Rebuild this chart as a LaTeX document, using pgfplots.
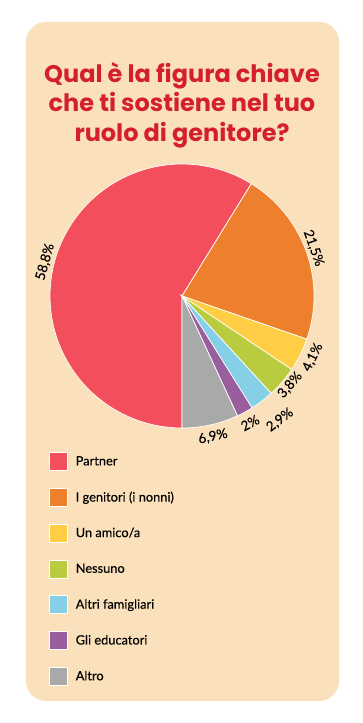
\documentclass[border=0pt]{standalone}
\usepackage{pgfplots}
\pgfplotsset{compat=1.18}
\usepackage{fontspec}
\setmainfont{Lato}
\newfontfamily\titlefont{Poppins}
\newfontfamily\legfont[FakeBold=0.25]{Lato}
\definecolor{peach}{HTML}{FAE1BB}
\definecolor{titlered}{HTML}{D4202C}
\definecolor{cPartner}{HTML}{F24E5B}
\definecolor{cGenitori}{HTML}{EE7F2D}
\definecolor{cAmico}{HTML}{FFCE45}
\definecolor{cNessuno}{HTML}{B9CB3F}
\definecolor{cAltri}{HTML}{85D0E7}
\definecolor{cEduc}{HTML}{985E9E}
\definecolor{cAltro}{HTML}{A9A9A9}
\newcommand\cur{-90}
\newcommand\slice[3]{%
  \pgfmathsetmacro\sa{\cur}%
  \pgfmathsetmacro\sb{\cur-3.6*#1}%
  \addplot[fill=#2, draw=white, line width=0.7pt, domain=\sb:\sa, samples=80]
     ({132*cos(x)},{132*sin(x)}) -- (axis cs:0,0) -- cycle;
  \addlegendentry{#3}
  \xdef\cur{\sb}%
}
\begin{document}
\begin{tikzpicture}[x=1pt,y=1pt]
\fill[white] (0,0) rectangle (363,723);
\fill[peach, rounded corners=20pt] (26,22) rectangle (339,701);
\begin{scope}[font=\titlefont\bfseries\fontsize{24}{29}\selectfont, text=titlered]
\node[anchor=base, inner sep=0] at (182,640) {Qual è la figura chiave};
\node[anchor=base, inner sep=0] at (182,611) {che ti sostiene nel tuo};
\node[anchor=base, inner sep=0] at (182,581.5) {ruolo di genitore?};
\end{scope}
\begin{axis}[at={(182,427)}, anchor=center,
  hide axis, scale only axis, width=264pt, height=264pt,
  xmin=-132, xmax=132, ymin=-132, ymax=132, clip=false,
  legend cell align=left,
  legend image code/.code={\draw[#1, line width=0.6pt] (0pt,-9pt) rectangle (18pt,9pt);},
  legend style={at={(-0.004,-0.091)}, anchor=north west, draw=none, fill=none,
    font=\legfont\fontsize{12.8}{15}\selectfont, row sep=17.2pt, column sep=8pt,
    inner sep=0pt, nodes={inner sep=0pt}},
]
\slice{58.8}{cPartner}{Partner}
\slice{21.5}{cGenitori}{I genitori (i nonni)}
\slice{4.1}{cAmico}{Un amico/a}
\slice{3.8}{cNessuno}{Nessuno}
\slice{2.9}{cAltri}{Altri famigliari}
\slice{2}{cEduc}{Gli educatori}
\slice{6.9}{cAltro}{Altro}
\begin{scope}[every node/.style={font=\legfont\fontsize{13.5}{15}\selectfont, inner sep=0pt}]
\node[rotate=74.2] at (axis cs:{141*cos(166)},{141*sin(166)}) {58,8\%};
\node[rotate=-70.4] at (axis cs:{140*cos(20)},{140*sin(20)}) {21,5\%};
\node[rotate=63.5] at (axis cs:{144.4*cos(-25.1)},{144.4*sin(-25.1)}) {4,1\%};
\node[rotate=49.3] at (axis cs:{140*cos(-39.5)},{140*sin(-39.5)}) {3,8\%};
\node[rotate=37.3] at (axis cs:{158*cos(-51.7)},{158*sin(-51.7)}) {2,9\%};
\node[rotate=28.4] at (axis cs:{144*cos(-61.8)},{144*sin(-61.8)}) {2\%};
\node[rotate=12.4] at (axis cs:{144*cos(-77.6)},{144*sin(-77.6)}) {6,9\%};
\end{scope}
\end{axis}
\pgfresetboundingbox
\useasboundingbox (0,0) rectangle (363,723);
\end{tikzpicture}
\end{document}
